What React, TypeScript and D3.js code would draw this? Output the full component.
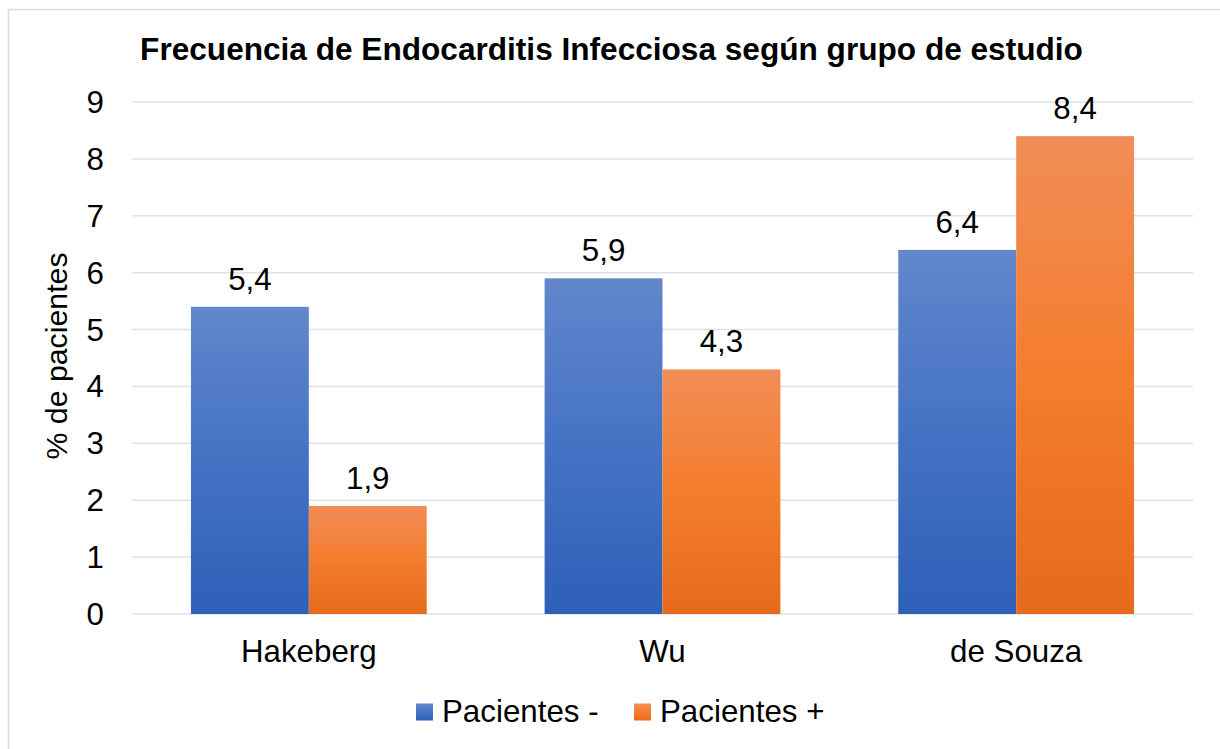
import React from "react";
import * as d3 from "d3";

const title = "Frecuencia de Endocarditis Infecciosa según grupo de estudio";
const categories = ["Hakeberg", "Wu", "de Souza"];
const seriesNames = ["Pacientes -", "Pacientes +"];
const pacientesMenos = [5.4, 5.9, 6.4];
const pacientesMas = [1.9, 4.3, 8.4];
const yTicks = [0, 1, 2, 3, 4, 5, 6, 7, 8, 9];
const yLabel = "% de pacientes";

const W = 1220;
const H = 749;
const FONT = "'Liberation Sans', Arial, sans-serif";
const FS = 31.3;

export default function App() {
  const x = d3.scaleBand<string>().domain(categories).range([132, 1193]).paddingInner(1 / 3).paddingOuter(1 / 6);
  const inner = d3.scaleBand<string>().domain(["0", "1"]).range([0, x.bandwidth()]);
  const y = d3.scaleLinear().domain([0, 9]).range([614, 102]);
  const series = [pacientesMenos, pacientesMas];
  const fills = ["url(#gBlue)", "url(#gOrange)"];
  const fmt = (v: number) => v.toFixed(1).replace(".", ",");

  return (
    <svg width={W} height={H} style={{ position: "absolute", left: 0, top: 0, background: "#fff" }}>
      <defs>
        <linearGradient id="gBlue" x1="0" y1="0" x2="0" y2="1">
          <stop offset="0" stopColor="#6287CC" />
          <stop offset="0.5" stopColor="#4472C4" />
          <stop offset="1" stopColor="#2E60B8" />
        </linearGradient>
        <linearGradient id="gOrange" x1="0" y1="0" x2="0" y2="1">
          <stop offset="0" stopColor="#F18D56" />
          <stop offset="0.5" stopColor="#F47D2E" />
          <stop offset="1" stopColor="#E56B1A" />
        </linearGradient>
      </defs>
      <rect x={8.5} y={9.5} width={1240} height={780} fill="#fff" stroke="#D9DCE2" strokeWidth={1.5} />
      <text x={611.5} y={60} textAnchor="middle" fontFamily={FONT} fontWeight="bold" fontSize={31.6} fill="#000">
        {title}
      </text>
      {yTicks.map((t) => (
        <g key={t}>
          <line x1={132} x2={1193} y1={y(t)} y2={y(t)} stroke="#DEE2E8" strokeWidth={1.5} />
          <text x={104} y={y(t) + 11} textAnchor="end" fontFamily={FONT} fontSize={FS} fill="#000">
            {t}
          </text>
        </g>
      ))}
      <text
        transform={`translate(67,356) rotate(-90)`}
        textAnchor="middle"
        fontFamily={FONT}
        fontSize={30.3}
        fill="#000"
      >
        {yLabel}
      </text>
      {categories.map((c, i) => (
        <g key={c}>
          {series.map((s, si) => {
            const bx = (x(c) as number) + (inner(String(si)) as number);
            const bw = inner.bandwidth();
            return (
              <g key={si}>
                <rect x={bx} y={y(s[i])} width={bw} height={y(0) - y(s[i])} fill={fills[si]} />
                <text
                  x={bx + bw / 2}
                  y={y(s[i]) - 17}
                  textAnchor="middle"
                  fontFamily={FONT}
                  fontSize={FS}
                  fill="#000"
                >
                  {fmt(s[i])}
                </text>
              </g>
            );
          })}
          <text
            x={(x(c) as number) + x.bandwidth() / 2}
            y={662}
            textAnchor="middle"
            fontFamily={FONT}
            fontSize={FS}
            fill="#000"
          >
            {c}
          </text>
        </g>
      ))}
      {seriesNames.map((n, i) => {
        const lx = [416, 634][i];
        return (
          <g key={n}>
            <rect x={lx} y={703.5} width={17} height={17} fill={fills[i]} />
            <text x={lx + 26} y={722} fontFamily={FONT} fontSize={FS} fill="#000">
              {n}
            </text>
          </g>
        );
      })}
    </svg>
  );
}
